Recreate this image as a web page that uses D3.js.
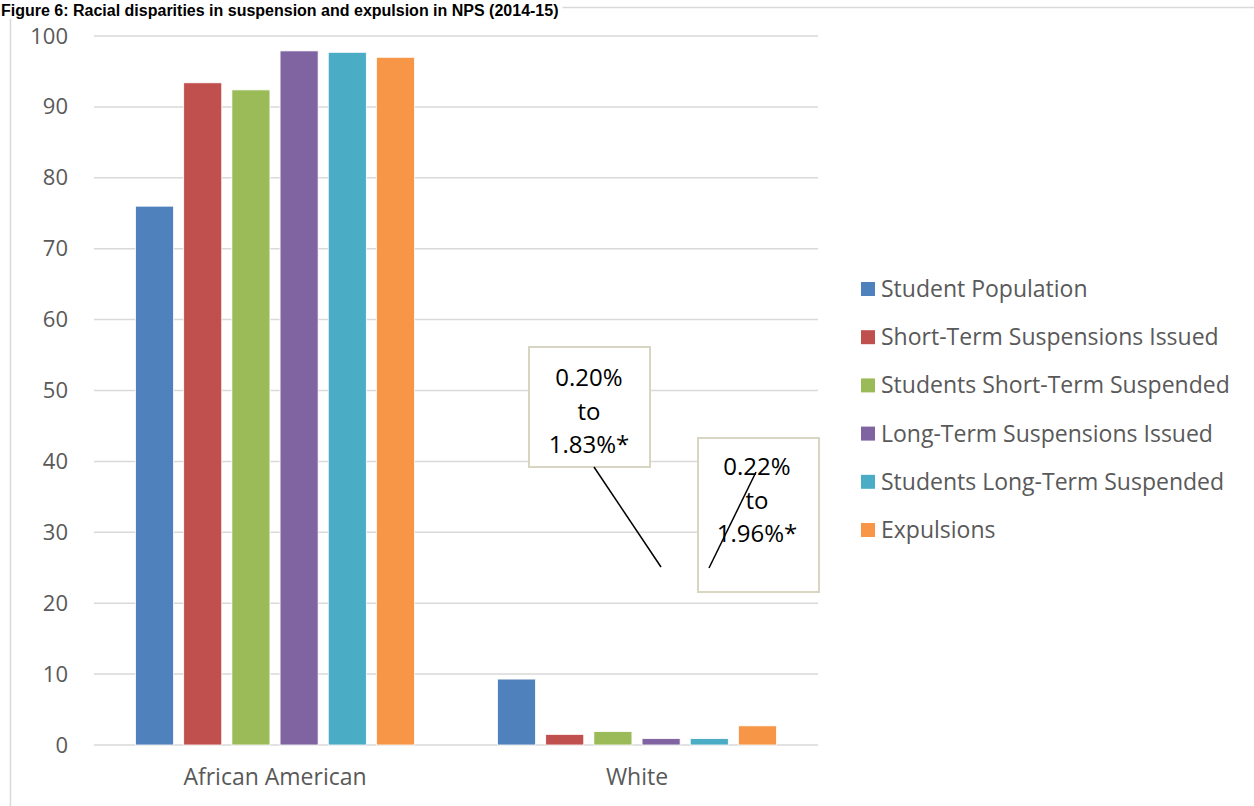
<!DOCTYPE html>
<html>
<head>
<meta charset="utf-8">
<script src="https://cdn.jsdelivr.net/npm/d3@7/dist/d3.min.js"></script>
<style>
  html, body { margin: 0; padding: 0; background: #fff; }
  svg { display: block; }
  text { font-family: "Open Sans", "Noto Sans", sans-serif; }
  text.title { font-family: "Liberation Sans", Arial, sans-serif; }
</style>
</head>
<body>
<svg id="chart" width="1254" height="806"></svg>
<script>
// Racial breakdown (percent) of suspensions and expulsions
const categories = ["African American", "White"];
const seriesNames = [
  "Student Population",
  "Short-Term Suspensions Issued",
  "Students Short-Term Suspended",
  "Long-Term Suspensions Issued",
  "Students Long-Term Suspended",
  "Expulsions"
];
const africanAmerican = [76.0, 93.4, 92.4, 97.9, 97.7, 97.0];
const white = [9.3, 1.5, 1.9, 0.9, 0.9, 2.7];
const seriesColors = ["#4F81BD", "#C0504D", "#9BBB59", "#8064A2", "#4BACC6", "#F79646"];
const yTicks = [0, 10, 20, 30, 40, 50, 60, 70, 80, 90, 100];
const calloutTexts = [["0.20%", "to", "1.83%*"], ["0.22%", "to", "1.96%*"]];
const titleText = "Figure 6: Racial disparities in suspension and expulsion in NPS (2014-15)";

const values = [africanAmerican, white];

const svg = d3.select("#chart");

// Chart frame
svg.append("path")
  .attr("d", "M10.5,806 V7.5 H1254")
  .attr("fill", "none")
  .attr("stroke", "#d9d9d9")
  .attr("stroke-width", 1.5);

// Title above the frame
const title = svg.append("text")
  .attr("class", "title")
  .attr("x", 1).attr("y", 16)
  .attr("font-weight", "bold")
  .attr("font-size", 16)
  .attr("fill", "#000")
  .text(titleText);
const tb = title.node().getBBox();
svg.insert("rect", "text")
  .attr("x", 0).attr("y", 0)
  .attr("width", tb.x + tb.width + 4).attr("height", tb.y + tb.height)
  .attr("fill", "#fff");

const plot = { left: 94, right: 818, top: 36, bottom: 745 };

const y = d3.scaleLinear().domain([0, 100]).range([plot.bottom, plot.top]);
const x0 = d3.scaleBand().domain(categories).range([plot.left, plot.right]).padding(0);
const x1 = d3.scaleBand().domain(seriesNames)
  .range([41.5, x0.bandwidth() - 41.5])
  .paddingInner(0.21).paddingOuter(0);
const color = d3.scaleOrdinal().domain(seriesNames).range(seriesColors);

// Gridlines
svg.append("g")
  .selectAll("line")
  .data(yTicks)
  .join("line")
  .attr("x1", plot.left).attr("x2", plot.right)
  .attr("y1", d => y(d)).attr("y2", d => y(d))
  .attr("stroke", "#d9d9d9")
  .attr("stroke-width", 1.5);

// Y axis labels
const yAxis = d3.axisLeft(y).tickValues(yTicks).tickSize(0).tickPadding(0);
const yg = svg.append("g").attr("transform", `translate(68,0)`).call(yAxis);
yg.select(".domain").remove();
yg.selectAll("text")
  .attr("font-size", 22)
  .attr("fill", "#595959");

// Bars
const groups = svg.append("g")
  .selectAll("g")
  .data(categories)
  .join("g")
  .attr("transform", d => `translate(${x0(d)},0)`);

groups.selectAll("rect")
  .data((d, i) => seriesNames.map((s, j) => ({ series: s, value: values[i][j] })))
  .join("rect")
  .attr("x", d => x1(d.series))
  .attr("width", x1.bandwidth())
  .attr("y", d => y(d.value))
  .attr("height", d => y(0) - y(d.value))
  .attr("fill", d => color(d.series))
  .attr("stroke", "#fff")
  .attr("stroke-width", 0.8);

// Category axis labels
const xAxis = d3.axisBottom(x0).tickSize(0).tickPadding(0);
const xg = svg.append("g").attr("transform", `translate(0,${plot.bottom + 24})`).call(xAxis);
xg.select(".domain").remove();
xg.selectAll("text")
  .attr("font-size", 23)
  .attr("fill", "#595959");

// Callouts
const callouts = [
  { box: [529, 347, 121, 120], cx: 589, line: [594, 467, 661, 567] },
  { box: [698, 438, 121, 154], cx: 757, line: [756, 472, 709, 568] }
];
const lineStarts = [378, 467];
callouts.forEach((c, i) => {
  svg.append("rect")
    .attr("x", c.box[0]).attr("y", c.box[1])
    .attr("width", c.box[2]).attr("height", c.box[3])
    .attr("fill", "#fff")
    .attr("stroke", "#d8d5c2")
    .attr("stroke-width", 2);
  svg.append("g").selectAll("text")
    .data(calloutTexts[i])
    .join("text")
    .attr("x", c.cx)
    .attr("y", (d, k) => lineStarts[i] + k * 33.5)
    .attr("dy", "0.35em")
    .attr("text-anchor", "middle")
    .attr("font-size", 24)
    .attr("fill", "#000")
    .text(d => d);
});
callouts.forEach(c => {
  svg.append("line")
    .attr("x1", c.line[0]).attr("y1", c.line[1])
    .attr("x2", c.line[2]).attr("y2", c.line[3])
    .attr("stroke", "#000")
    .attr("stroke-width", 1.5);
});

// Legend
const legend = svg.append("g").attr("transform", "translate(861,289)");
const items = legend.selectAll("g")
  .data(seriesNames)
  .join("g")
  .attr("transform", (d, i) => `translate(0,${i * 48.2})`);
items.append("rect")
  .attr("x", 0).attr("y", -7)
  .attr("width", 14).attr("height", 14)
  .attr("fill", d => color(d));
items.append("text")
  .attr("x", 20).attr("y", 0)
  .attr("dy", "0.35em")
  .attr("font-size", 23)
  .attr("fill", "#595959")
  .text(d => d);
</script>
</body>
</html>
